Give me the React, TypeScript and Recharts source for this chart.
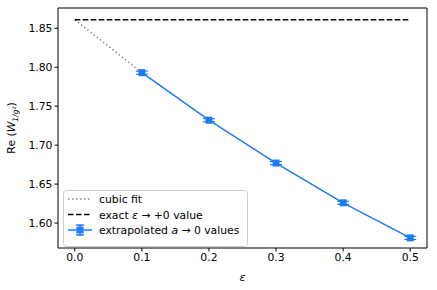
import {
  ComposedChart,
  Line,
  XAxis,
  YAxis,
  ErrorBar,
  Label,
  ReferenceLine,
} from "recharts";

const epsValues = [0.1, 0.2, 0.3, 0.4, 0.5];
const extrapolated = [1.793, 1.732, 1.677, 1.626, 1.581];
const errors = [0.002, 0.002, 0.002, 0.002, 0.002];

const fitEps = [0, 0.05, 0.1];
const fitValues = [1.861, 1.827, 1.793];

const exactValue = 1.861;
const exactEps = [0, 0.5];

const xTicks = [0, 0.1, 0.2, 0.3, 0.4, 0.5];
const yTicks = [1.6, 1.65, 1.7, 1.75, 1.8, 1.85];

const X_DOMAIN = [-0.025, 0.525];
const Y_DOMAIN = [1.568, 1.876];

const BLUE = "#1f7bf2";
const FONT = "DejaVu Sans, sans-serif";
const FS = 10.8;

const pointData = epsValues.map((e, i) => ({ eps: e, val: extrapolated[i], err: errors[i] }));
const fitData = fitEps.map((e, i) => ({ eps: e, fit: fitValues[i] }));
const exactData = exactEps.map((e) => ({ eps: e, exact: exactValue }));

function SquareDot(props: any) {
  const { cx, cy } = props;
  if (cx == null || cy == null) return null;
  return <rect x={cx - 3.5} y={cy - 3.5} width={7} height={7} fill={BLUE} />;
}

function LegendBox() {
  const rows = ["fit", "exact", "ext"];
  return (
    <svg width={186} height={58} style={{ display: "block" }}>
      <rect x={0.5} y={0.5} width={184} height={56} rx={3} fill="#fff" fillOpacity={0.8} stroke="#ccc" />
      {rows.map((kind, i) => {
        const y = 9 + i * 15.5;
        return (
          <g key={kind}>
            {kind === "fit" && (
              <line x1={5} x2={29} y1={y} y2={y} stroke="#888" strokeWidth={1.5} strokeDasharray="1.5 2.5" />
            )}
            {kind === "exact" && (
              <line x1={5} x2={29} y1={y} y2={y} stroke="#000" strokeWidth={1.5} strokeDasharray="5.5 2.5" />
            )}
            {kind === "ext" && (
              <g>
                <line x1={5} x2={29} y1={y} y2={y} stroke={BLUE} strokeWidth={1.5} />
                <line x1={17} x2={17} y1={y - 5} y2={y + 5} stroke={BLUE} strokeWidth={1.5} />
                <line x1={13} x2={21} y1={y - 5} y2={y - 5} stroke={BLUE} strokeWidth={1.5} />
                <line x1={13} x2={21} y1={y + 5} y2={y + 5} stroke={BLUE} strokeWidth={1.5} />
                <rect x={13.5} y={y - 3.5} width={7} height={7} fill={BLUE} />
              </g>
            )}
            <text x={36} y={y + 4} fontSize={FS} fontFamily={FONT} fill="#000">
              {kind === "fit" && "cubic fit"}
              {kind === "exact" && (
                <>
                  exact <tspan fontStyle="italic">ε</tspan> → +0 value
                </>
              )}
              {kind === "ext" && (
                <>
                  extrapolated <tspan fontStyle="italic">a</tspan> → 0 values
                </>
              )}
            </text>
          </g>
        );
      })}
    </svg>
  );
}

function YLabel() {
  return (
    <text
      transform="translate(15,128) rotate(-90)"
      textAnchor="middle"
      fontSize={FS}
      fontFamily={FONT}
      fill="#000"
    >
      Re (<tspan fontStyle="italic">W</tspan>
      <tspan fontSize={7.5} dy={3} fontStyle="italic">1/g²</tspan>
      <tspan dy={-3}>)</tspan>
    </text>
  );
}

const tickStyle = { fontSize: FS, fontFamily: FONT, fill: "#000" };

export default function App() {
  return (
    <div style={{ position: "absolute", left: 0, top: 0, width: 437, height: 290, background: "#fff" }}>
      <ComposedChart width={437} height={290} margin={{ top: 8, right: 10, bottom: 0, left: 0 }}>
        <XAxis
          dataKey="eps"
          type="number"
          domain={X_DOMAIN}
          ticks={xTicks}
          tickFormatter={(v: number) => v.toFixed(1)}
          tick={tickStyle}
          tickLine={{ stroke: "#000" }}
          axisLine={{ stroke: "#000" }}
          tickSize={3.5}
          height={42}
          allowDuplicatedCategory={false}
          allowDataOverflow
        >
          <Label
            value="ε"
            position="insideBottom"
            offset={9}
            style={{ fontSize: FS, fontFamily: FONT, fontStyle: "italic", fill: "#000" }}
          />
        </XAxis>
        <YAxis
          type="number"
          domain={Y_DOMAIN}
          ticks={yTicks}
          tickFormatter={(v: number) => v.toFixed(2)}
          tick={tickStyle}
          tickLine={{ stroke: "#000" }}
          axisLine={{ stroke: "#000" }}
          tickSize={3.5}
          width={58}
          allowDataOverflow
        >
          <Label content={<YLabel />} />
        </YAxis>
        <ReferenceLine x={X_DOMAIN[1]} stroke="#000" strokeWidth={1} />
        <ReferenceLine y={Y_DOMAIN[1]} stroke="#000" strokeWidth={1} />
        <Line
          data={fitData}
          dataKey="fit"
          stroke="#888"
          strokeWidth={1.5}
          strokeDasharray="1.5 2.5"
          dot={false}
          isAnimationActive={false}
        />
        <Line
          data={exactData}
          dataKey="exact"
          stroke="#000"
          strokeWidth={1.5}
          strokeDasharray="5.5 2.5"
          dot={false}
          isAnimationActive={false}
        />
        <Line
          data={pointData}
          dataKey="val"
          stroke={BLUE}
          strokeWidth={1.5}
          dot={<SquareDot />}
          activeDot={false}
          isAnimationActive={false}
        >
          <ErrorBar dataKey="err" width={6} stroke={BLUE} strokeWidth={1.2} direction="y" />
        </Line>
      </ComposedChart>
      <div style={{ position: "absolute", left: 63, top: 190 }}>
        <LegendBox />
      </div>
    </div>
  );
}
